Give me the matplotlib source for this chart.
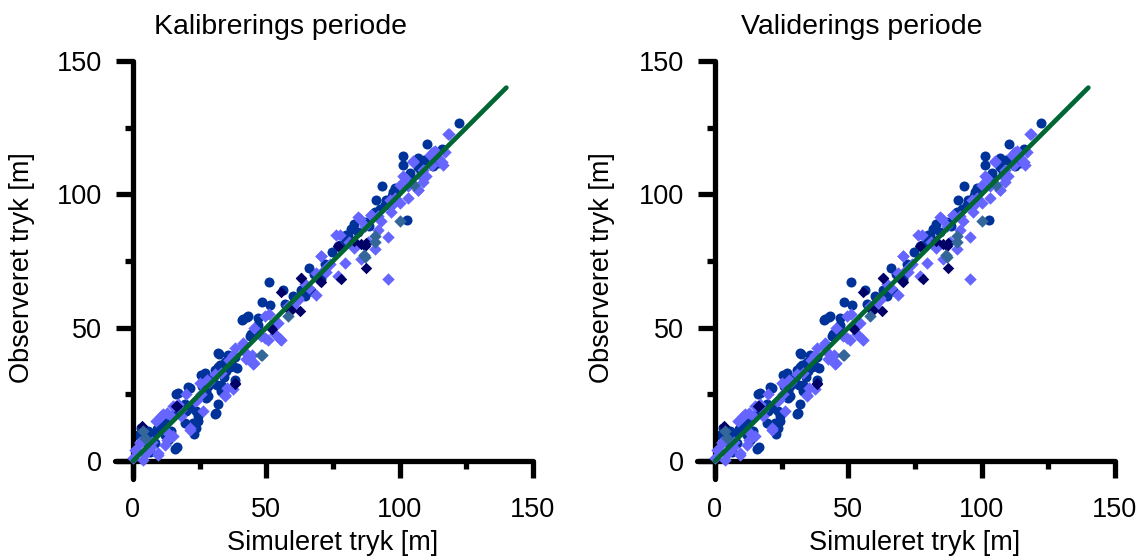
import matplotlib
matplotlib.use("Agg")
import matplotlib.pyplot as plt

plt.rcParams['font.family'] = ['Liberation Sans', 'DejaVu Sans']

# ---- data (simulated x, observed y) ----
circ_x = [122.1, 110.4, 101.3, 101.3, 93.5, 91.0, 102.9, 74.6, 66.0, 51.0, 48.4, 51.5, 40.9, 42.9,
          56.3, 44.4, 32.1, 31.9, 34.1, 31.6, 25.6, 20.6, 16.3, 27.5, 31.9, 30.6, 23.8, 22.5, 22.9,
          15.9, 19.4, 9.6, 3.1, 11.9, 13.1, 35.6, 35.0, 37.5, 30.4, 86.9, 84.4, 80.0, 98.1, 106.9,
          112.5, 76.9, 64.4, 24.4, 14.4, 6.9, 5.6, 10.6, 18.1, 20.0, 28.1, 33.1, 38.1, 46.9, 66.9,
          70.6, 81.9, 90.6, 94.4, 104.4, 111.9, 114.4, 1.9, 5.0, 8.1, 6.3, 10.0, 12.5, 15.6, 21.3,
          27.5, 108.0, 97.0, 88.5,
          41.4, 43.2, 32.0, 32.6, 34.5, 36.4, 38.9, 26.9, 30.6, 33.1, 28.1, 31.3, 24.4, 22.5, 23.8,
          21.3, 17.0, 13.9, 11.4, 8.9, 6.4, 3.9, 16.4, 19.6, 19.6, 30.0, 38.1, 46.9, 35.7,
          83.0, 80.5, 79.9, 106.9, 113.8, 92.5, 97.5,
          57.0, 60.0, 63.0, 68.0, 72.0, 78.0, 95.0, 99.0, 104.0, 109.0, 113.0, 116.0, 44.0, 47.0,
          26.0, 29.0, 36.0, 9.0, 7.0]
circ_y = [126.8, 118.7, 114.3, 110.9, 103.3, 97.8, 90.4, 78.5, 72.3, 67.1, 59.6, 58.4, 52.7, 53.9,
          64.0, 47.8, 40.3, 35.2, 31.4, 28.6, 32.4, 27.6, 25.1, 23.8, 21.3, 17.5, 18.7, 14.3, 10.1,
          4.4, 21.5, 14.3, 12.4, 9.9, 8.0, 37.1, 33.9, 35.8, 32.0, 89.6, 85.8, 84.6, 102.3, 113.7,
          110.5, 80.8, 61.8, 14.9, 11.1, 8.6, 11.1, 13.0, 18.1, 18.7, 28.2, 26.3, 39.0, 53.5, 63.7,
          68.1, 87.1, 93.4, 95.9, 106.1, 114.3, 111.8, 9.9, 7.3, 6.7, 3.5, 11.8, 14.9, 17.5, 20.0,
          26.3, 108.5, 99.5, 88.0,
          53.1, 54.4, 40.6, 36.1, 37.3, 35.4, 34.8, 33.0, 34.3, 28.6, 24.2, 17.9, 16.7, 11.1, 12.4,
          27.4, 25.5, 16.7, 12.4, 11.8, 8.0, 10.5, 5.4, 14.2, 19.2, 29.2, 30.4, 48.1, 39.9,
          88.9, 84.6, 82.7, 110.3, 112.2, 94.6, 100.9,
          59.0, 62.0, 64.0, 70.0, 74.0, 81.0, 98.0, 101.0, 108.0, 113.0, 116.0, 117.0, 47.0, 51.0,
          28.0, 31.0, 38.0, 12.0, 9.0]

lite_x = [118.1, 116.3, 113.1, 111.3, 105.0, 106.9, 101.9, 103.1, 100.0, 95.6, 95.6, 96.9, 89.4,
          84.4, 77.5, 70.6, 79.4, 76.9, 68.8, 61.9, 54.4, 55.6, 53.1, 49.4, 45.0, 42.5, 41.3, 38.1,
          37.5, 34.4, 26.3, 21.3, 20.0, 11.3, 14.4, 8.8, 9.4, 3.8, 0.6, 2.5, 6.9, 11.9, 25.6, 64.4,
          88.1, 90.6, 91.9, 108.8, 114.4, 98.1, 30.6, 16.9, 23.1, 50.6, 60.0, 72.5, 83.0, 93.0,
          110.0, 45.5, 36.0, 28.5, 18.0, 13.0, 4.5,
          50.9, 49.6, 55.2, 45.2, 44.5, 40.8, 37.6, 34.5, 35.1, 27.6, 25.1, 12.6, 10.6, 15.1, 21.3,
          15.1, 9.5, 5.8, 1.4, 0.1, 2.6, 12.6,
          118.6, 112.6, 115.7, 105.0, 108.7, 106.9, 101.2, 100.0, 96.2, 89.4, 85.0, 76.2, 70.6,
          85.6, 68.7, 71.8,
          58.0, 62.0, 66.0, 74.0, 81.0, 87.0, 92.0, 97.0, 103.0, 108.0, 112.0, 117.0, 48.0, 52.0,
          42.0, 33.0, 24.0, 18.0, 7.0]
lite_y = [122.8, 111.1, 116.2, 114.9, 112.4, 101.6, 106.1, 98.5, 96.6, 83.9, 68.1, 93.4, 92.2,
          91.5, 84.6, 77.0, 74.4, 69.4, 62.4, 60.5, 51.6, 45.3, 47.8, 54.2, 36.5, 38.4, 44.1, 42.2,
          27.0, 24.4, 18.7, 11.8, 25.1, 17.5, 16.8, 14.9, 2.3, 0.4, 4.2, 7.3, 5.4, 6.1, 25.1, 66.2,
          82.0, 79.5, 86.5, 104.8, 113.7, 98.5, 32.7, 21.3, 22.5, 45.3, 58.0, 71.0, 80.0, 90.0,
          107.0, 50.0, 38.0, 29.5, 17.0, 10.5, 2.5,
          55.0, 46.2, 45.6, 36.8, 39.9, 43.1, 39.9, 24.9, 27.4, 30.4, 29.2, 17.9, 16.7, 20.7, 12.4,
          9.2, 2.9, 3.6, 3.6, 1.1, 6.8, 8.0,
          122.5, 115.9, 112.2, 112.2, 109.1, 101.6, 106.7, 103.5, 97.7, 92.1, 90.8, 84.6, 76.9,
          75.7, 70.6, 71.8,
          58.0, 61.0, 65.0, 74.0, 82.0, 88.0, 92.0, 96.0, 103.0, 107.0, 111.0, 116.0, 47.0, 51.0,
          41.0, 33.0, 23.0, 19.0, 7.0]

navy_x = [76.9, 87.2, 85.6, 86.9, 63.1, 55.6, 59.4, 62.5, 51.9, 38.1, 16.3, 70.0, 83.0,
          16.4, 38.2, 3.3, 52.0, 58.9, 87.5, 62.9, 70.4, 77.9]
navy_y = [80.8, 72.2, 81.4, 80.8, 68.7, 63.3, 56.7, 56.1, 49.7, 28.9, 20.6, 67.5, 82.5,
          20.7, 29.2, 13.0, 49.4, 56.3, 81.7, 68.8, 67.2, 68.2]

steel_x = [100.0, 90.6, 86.9, 58.1, 47.9, 3.8, 4.4, 90.6, 105.5, 48.2, 86.5]
steel_y = [89.9, 84.3, 76.6, 54.2, 39.6, 11.1, 8.6, 82.0, 103.5, 39.9, 77.1]

line_x = [0, 140]
line_y = [0, 140]

titles = ["Kalibrerings periode", "Validerings periode"]
xlabel = "Simuleret tryk [m]"
ylabel = "Observeret tryk [m]"
ticks = [0, 50, 100, 150]
minor_ticks = [25, 75, 125]

W, H = 1148, 558
fig = plt.figure(figsize=(W / 100, H / 100), dpi=100)

FS = 19.5
lo = -6.75
axes_left_px = [115, 697]
title_cx = [281, 862]
ylabel_cx = [22, 602]

for i in range(2):
    ax = fig.add_axes([axes_left_px[i] / W, (H - 479) / H, 418 / W, 418 / H])
    ax.set_xlim(lo, 150)
    ax.set_ylim(lo, 150)
    ax.scatter(circ_x, circ_y, s=52, marker='o', color='#003399', linewidths=0, zorder=2)
    ax.scatter(lite_x, lite_y, s=40, marker='D', color='#6666FF', linewidths=0, zorder=3)
    ax.scatter(navy_x, navy_y, s=34, marker='D', color='#000066', linewidths=0, zorder=4)
    ax.scatter(steel_x, steel_y, s=40, marker='D', color='#336699', linewidths=0, zorder=4)
    ax.plot(line_x, line_y, color='#006633', lw=3.4, zorder=5, solid_capstyle='round')

    for s in ['top', 'right']:
        ax.spines[s].set_visible(False)
    for s in ['left', 'bottom']:
        ax.spines[s].set_linewidth(3.8)
        ax.spines[s].set_position(('data', 0))
        ax.spines[s].set_capstyle('round')
    ax.spines['left'].set_bounds(lo, 150)
    ax.spines['bottom'].set_bounds(lo, 150)

    ax.set_xticks(ticks)
    ax.set_yticks(ticks)
    ax.set_xticks(minor_ticks, minor=True)
    ax.set_yticks(minor_ticks, minor=True)
    ax.tick_params(which='major', length=12, width=3.8, direction='out', labelsize=FS)
    ax.tick_params(which='minor', length=6, width=3.8, direction='out')
    ax.tick_params(axis='x', which='major', pad=14)
    ax.tick_params(axis='y', which='major', pad=10)
    for t in ax.xaxis.get_major_ticks() + ax.yaxis.get_major_ticks() + \
             ax.xaxis.get_minor_ticks() + ax.yaxis.get_minor_ticks():
        t.tick1line.set_solid_capstyle('round')
    ax.patch.set_visible(False)

    fig.text(title_cx[i] / W, 1 - 27 / H, titles[i], ha='center', va='center', fontsize=20.5)
    fig.text((axes_left_px[i] + 18 + 200) / W, 1 - 543 / H, xlabel, ha='center', va='center', fontsize=FS)
    fig.text(ylabel_cx[i] / W, 1 - 268 / H, ylabel, ha='center', va='center', rotation=90, fontsize=FS)

fig.savefig("out.png", dpi=100)
